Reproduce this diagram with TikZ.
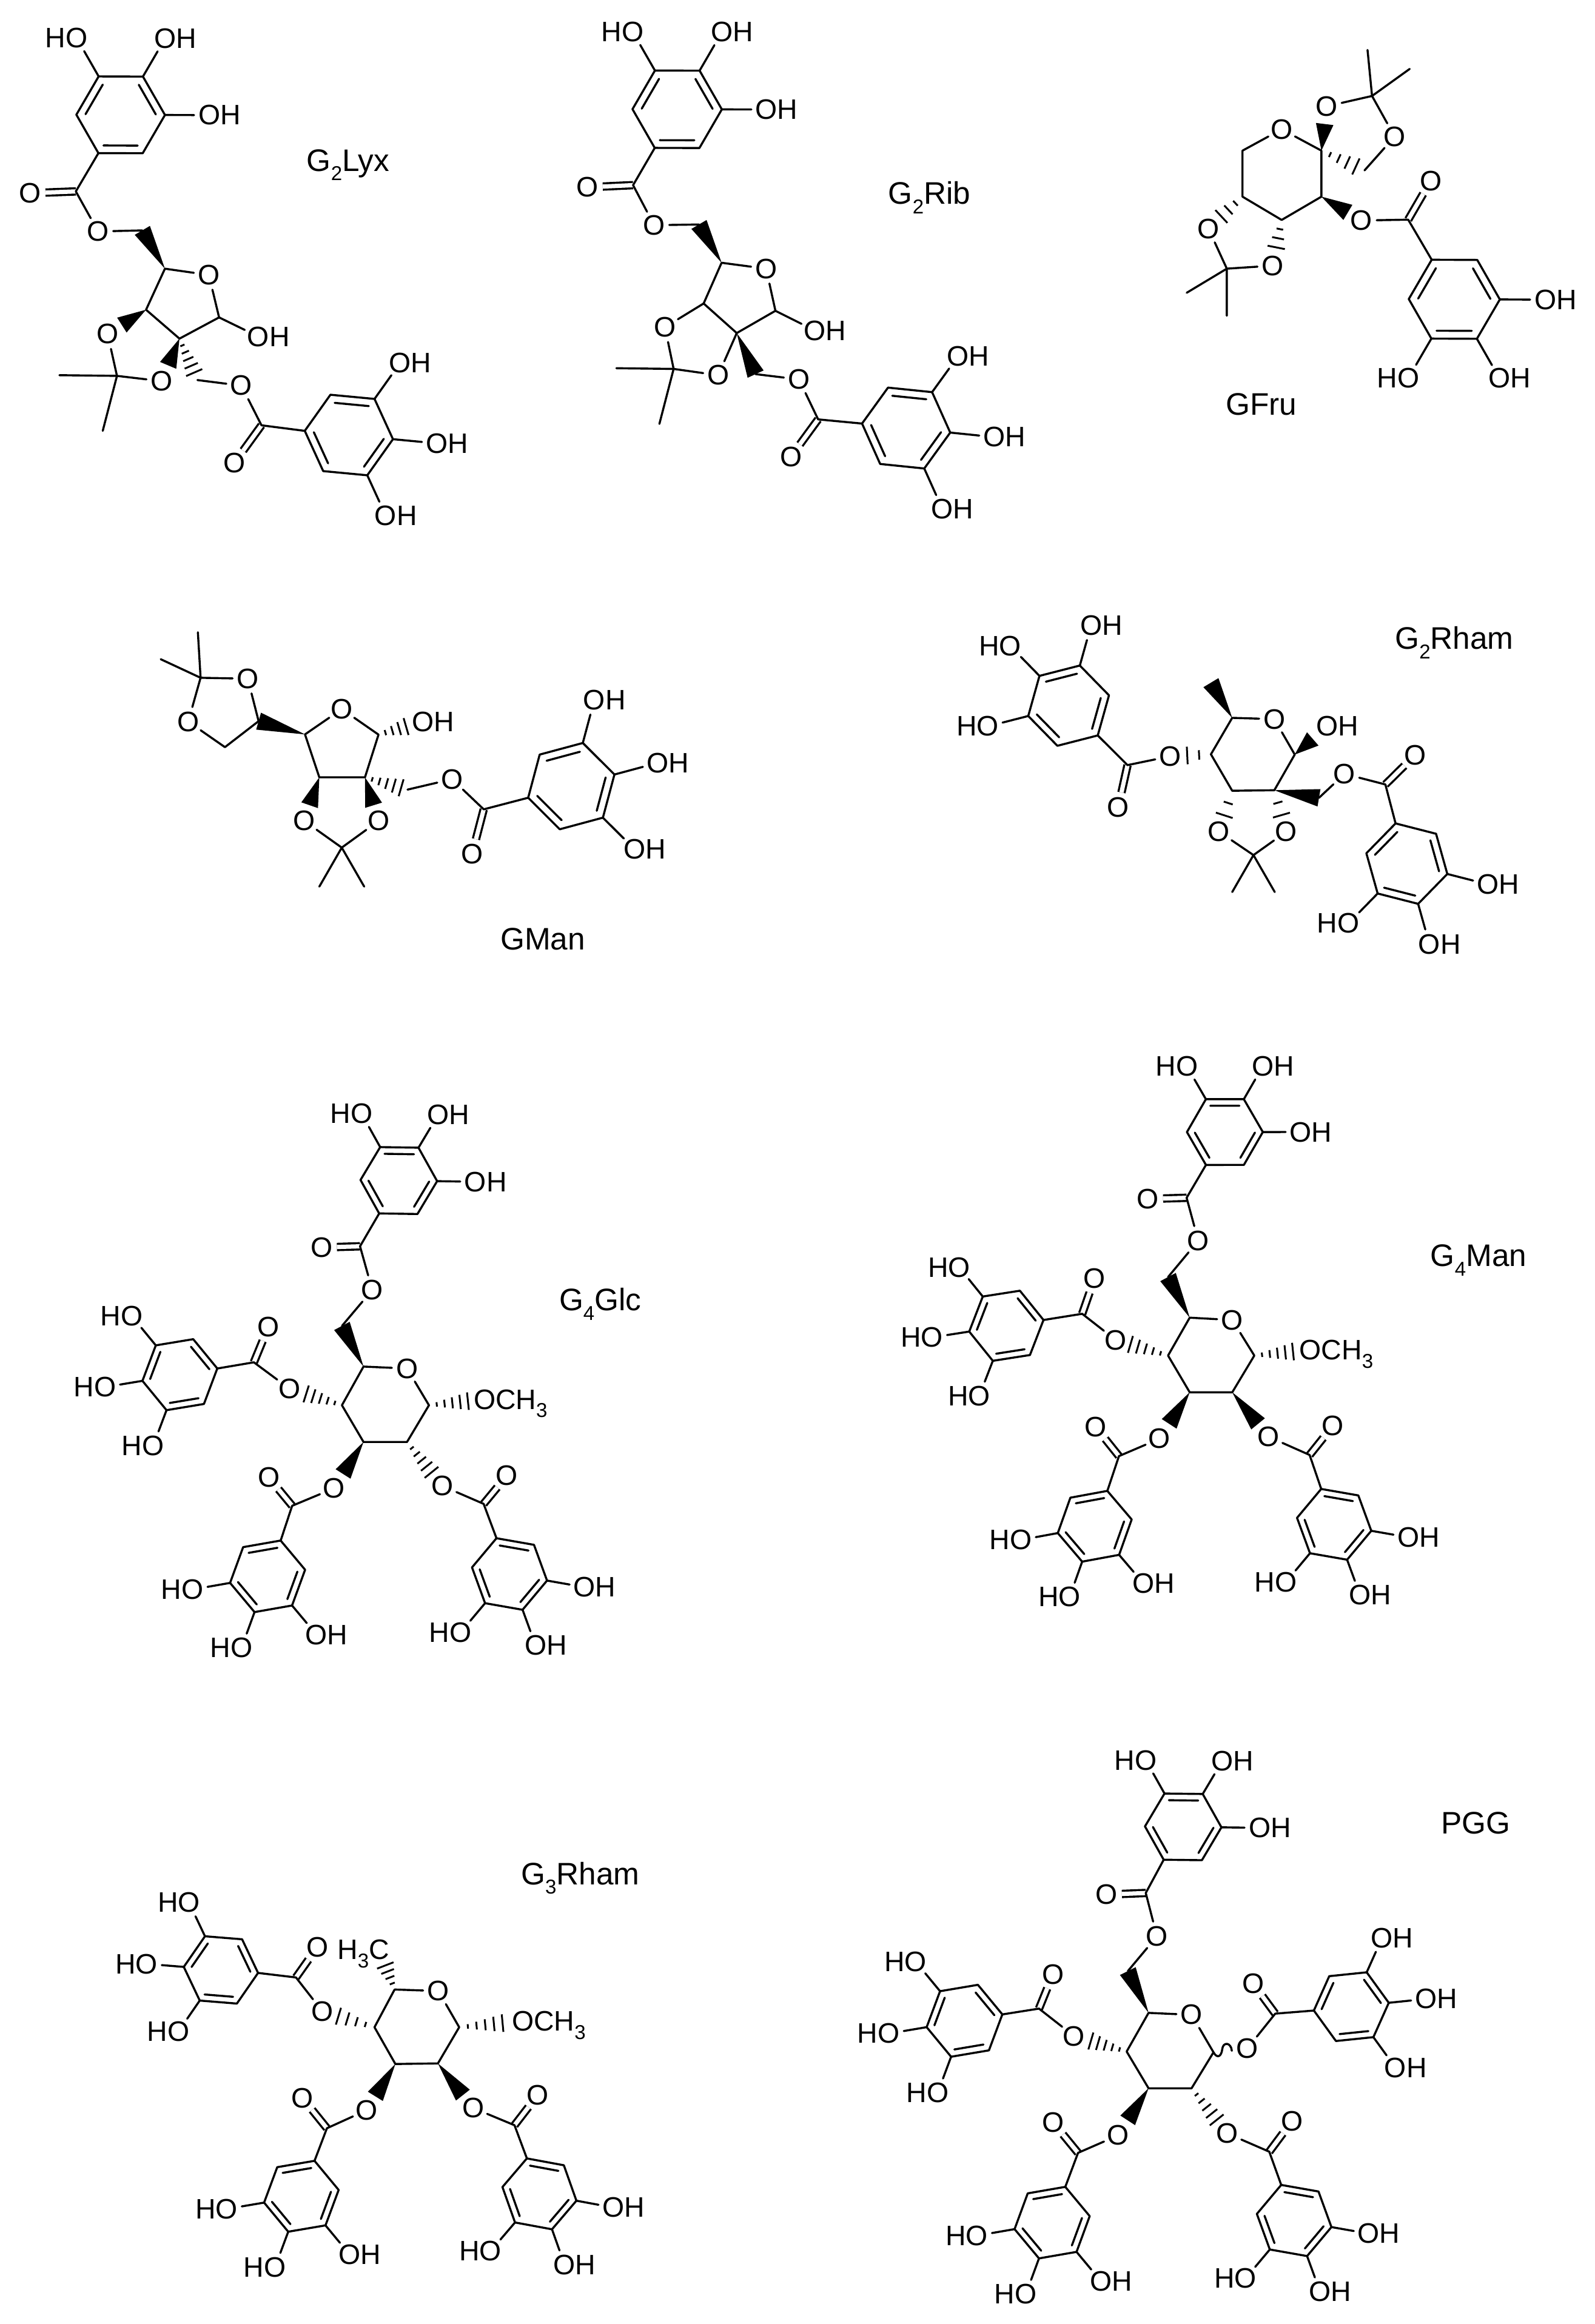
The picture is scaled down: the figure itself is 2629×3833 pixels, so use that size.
\documentclass[tikz,border=0pt]{standalone}
\usepackage{fontspec}
\setmainfont{Liberation Sans}
\usetikzlibrary{calc}

\newcommand{\lowsub}[1]{\smash{\raisebox{-.3em}{\fontsize{9.4}{9.4}\selectfont #1}}}
\newcommand{\OHr}{O\rlap{H}}
\newcommand{\HOl}{\llap{H}O}

\tikzset{
  bond/.style={line width=.34mm,line cap=round,line join=round},
  dbond/.style={line width=.34mm,double,double distance=.7mm},
  hashline/.style={line width=.3mm},
  atom/.style={circle,inner sep=0pt,minimum size=.46cm,font=\fontsize{13.2}{14}\selectfont},
  molname/.style={inner sep=0pt,font=\fontsize{14.6}{16}\selectfont},
  panel/.style n args={4}{shift={(#1,#2)},xscale=#3/1568,yscale=#4/1568}
}

\newcommand{\gallate}[7]{
  \coordinate (#1-0) at (#2);
  \coordinate (#1-3) at (#3);
  \begin{scope}[reset cm]
  \coordinate (#1-c) at ($(#1-0)!.5!(#1-3)$);
  \foreach \i in {1,2,4,5}{
    \pgfmathsetmacro\ringang{\i*#4}
    \coordinate (#1-\i) at ($(#1-c)!1!\ringang:(#1-0)$);
  }
  \draw[bond] (#1-0) -- (#1-1) -- (#1-2) -- (#1-3) -- (#1-4) -- (#1-5) -- cycle;
  \foreach \a/\b in {0/1,2/3,4/5}
    \draw[bond,shorten <=.01cm,shorten >=.01cm] ($(#1-\a)!.2!(#1-c)$) -- ($(#1-\b)!.2!(#1-c)$);
  \node[atom] (#1-o2) at ($(#1-c)!2!(#1-2)$) {#5};
  \node[atom] (#1-o3) at ($(#1-c)!2!(#1-3)$) {#6};
  \node[atom] (#1-o4) at ($(#1-c)!2!(#1-4)$) {#7};
  \draw[bond] (#1-2) -- (#1-o2);
  \draw[bond] (#1-3) -- (#1-o3);
  \draw[bond] (#1-4) -- (#1-o4);
  \end{scope}
}
\newcommand{\esterco}[4]{
  \coordinate (#1-k) at (#2);
  \node[atom] (#1-d) at (#3) {O};
  \draw[dbond] (#1-k) -- (#1-d);
  \draw[bond] (#1-0) -- (#1-k) -- (#4);
}
\newcommand{\wedgebond}[3]{
  \begin{scope}[reset cm]
  \coordinate (wtmp) at ($(#1)!#3!(#2)$);
  \fill (#1) -- ($(wtmp)!.145cm!90:(#1)$) -- ($(wtmp)!.145cm!-90:(#1)$) -- cycle;
  \end{scope}
}
\newcommand{\hashbond}[4]{
  \begin{scope}[reset cm]
  \foreach \k in {1,...,#4}{
    \pgfmathsetmacro\hpos{#3*\k/#4}
    \pgfmathsetmacro\hwid{.135*\k/#4+.01}
    \draw[hashline] ($(#1)!\hpos!(#2)!\hwid cm!90:(#2)$) -- ($(#1)!\hpos!(#2)!\hwid cm!-90:(#2)$);
  }
  \end{scope}
}

\begin{document}
\begin{tikzpicture}[x=.01cm,y=-.01cm]
\useasboundingbox (0,0) rectangle (2629,3833);

\begin{scope}[panel={0}{0}{800}{900}]
  \gallate{lyxA}{318,440}{462,220}{60}{\OHr}{\OHr}{\HOl}
  \gallate{lyxB}{985,1238}{1270,1262}{60}{\OHr}{\OHr}{\OHr}
  \node[atom] (lyxO5) at (317,665) {O};
  \node[atom] (lyxO6) at (780,1108) {O};
  \node[atom] (lyxOr) at (675,790) {O};
  \node[atom] (lyxOH) at (835,967) {\OHr};
  \node[atom] (lyxO3) at (348,960) {O};
  \node[atom] (lyxO2) at (522,1095) {O};
  \coordinate (lyxCH) at (460,662);
  \coordinate (lyxCB) at (638,1092);
  \coordinate (lyx4) at (533,772);
  \coordinate (lyx1) at (708,912);
  \coordinate (lyx2) at (580,973);
  \coordinate (lyx3) at (472,890);
  \coordinate (lyxK) at (378,1080);
  \coordinate (lyxMa) at (192,1078);
  \coordinate (lyxMb) at (332,1238);
  \esterco{lyxA}{245,550}{98,555}{lyxO5}
  \esterco{lyxB}{845,1222}{757,1330}{lyxO6}
  \draw[bond] (lyxO5) -- (lyxCH);
  \wedgebond{lyx4}{lyxCH}{1}
  \draw[bond] (lyx4) -- (lyxOr) -- (lyx1) -- (lyx2) -- (lyx3) -- (lyx4);
  \draw[bond] (lyx1) -- (lyxOH);
  \wedgebond{lyx3}{lyxO3}{.63}
  \wedgebond{lyx2}{lyxO2}{.63}
  \hashbond{lyx2}{lyxCB}{.82}{5}
  \draw[bond] (lyxCB) -- (lyxO6);
  \draw[bond] (lyxO3) -- (lyxK) -- (lyxO2);
  \draw[bond] (lyxMa) -- (lyxK) -- (lyxMb);
  \node[molname] (lyxName) at (1125,470) {G\lowsub{2}Lyx};
\end{scope}

\begin{scope}[panel={900}{0}{800}{900}]
  \gallate{ribA}{352,425}{497,203}{60}{\OHr}{\OHr}{\HOl}
  \gallate{ribB}{1022,1217}{1307,1243}{60}{\OHr}{\OHr}{\OHr}
  \node[atom] (ribO5) at (350,647) {O};
  \node[atom] (ribO6) at (818,1090) {O};
  \node[atom] (ribOr) at (712,772) {O};
  \node[atom] (ribOH) at (870,950) {\OHr};
  \node[atom] (ribO3) at (385,940) {O};
  \node[atom] (ribO2) at (557,1078) {O};
  \coordinate (ribCH) at (495,645);
  \coordinate (ribCB) at (678,1075);
  \coordinate (rib4) at (568,755);
  \coordinate (rib1) at (742,893);
  \coordinate (rib2) at (617,957);
  \coordinate (rib3) at (510,872);
  \coordinate (ribK) at (413,1060);
  \coordinate (ribMa) at (228,1058);
  \coordinate (ribMb) at (367,1218);
  \esterco{ribA}{282,532}{135,538}{ribO5}
  \esterco{ribB}{880,1205}{792,1312}{ribO6}
  \draw[bond] (ribO5) -- (ribCH);
  \wedgebond{rib4}{ribCH}{1}
  \draw[bond] (rib4) -- (ribOr) -- (rib1) -- (rib2) -- (rib3) -- (rib4);
  \draw[bond] (rib1) -- (ribOH);
  \draw[bond] (rib3) -- (ribO3) -- (ribK) -- (ribO2) -- (rib2);
  \draw[bond] (ribMa) -- (ribK) -- (ribMb);
  \wedgebond{rib2}{ribCB}{1}
  \draw[bond] (ribCB) -- (ribO6);
  \node[molname] (ribName) at (1240,555) {G\lowsub{2}Rib};
\end{scope}

\begin{scope}[panel={1850}{40}{779}{700}]
  \gallate{fruA}{1028,870}{1178,1162}{60}{\HOl}{\OHr}{\OHr}
  \node[atom] (fruOe) at (795,725) {O};
  \node[atom] (fruOr) at (530,388) {O};
  \node[atom] (fruOa) at (680,303) {O};
  \node[atom] (fruOb) at (905,415) {O};
  \node[atom] (fruOc) at (287,755) {O};
  \node[atom] (fruOd) at (500,892) {O};
  \coordinate (fru2) at (662,467);
  \coordinate (fru3) at (662,637);
  \coordinate (fru4) at (530,723);
  \coordinate (fru5) at (400,637);
  \coordinate (fru6) at (400,467);
  \coordinate (fruCB) at (805,540);
  \coordinate (fruKa) at (830,265);
  \coordinate (fruMa) at (815,95);
  \coordinate (fruMb) at (955,165);
  \coordinate (fruKb) at (348,903);
  \coordinate (fruMc) at (215,992);
  \coordinate (fruMd) at (348,1077);
  \esterco{fruA}{950,722}{1025,578}{fruOe}
  \draw[bond] (fru2) -- (fruOr) -- (fru6) -- (fru5) -- (fru4) -- (fru3) -- (fru2);
  \wedgebond{fru2}{fruOa}{.6}
  \hashbond{fru2}{fruCB}{.8}{4}
  \draw[bond] (fruCB) -- (fruOb) -- (fruKa) -- (fruOa);
  \draw[bond] (fruMa) -- (fruKa) -- (fruMb);
  \wedgebond{fru3}{fruOe}{.66}
  \hashbond{fru5}{fruOc}{.62}{3}
  \hashbond{fru4}{fruOd}{.6}{3}
  \draw[bond] (fruOc) -- (fruKb) -- (fruOd);
  \draw[bond] (fruMc) -- (fruKb) -- (fruMd);
  \node[molname] (fruName) at (463,1403) {GFru};
\end{scope}

\begin{scope}[panel={200}{1000}{1000}{600}]
  \gallate{manA}{1052,825}{1275,725}{60}{\OHr}{\OHr}{\OHr}
  \node[atom] (manOe) at (855,745) {O};
  \node[atom] (manOr) at (570,443) {O};
  \node[atom] (manOH) at (780,497) {\OHr};
  \node[atom] (manOa) at (327,312) {O};
  \node[atom] (manOb) at (173,497) {O};
  \node[atom] (manOc) at (473,925) {O};
  \node[atom] (manOd) at (665,925) {O};
  \coordinate (manKa) at (205,308);
  \coordinate (manMa) at (198,112);
  \coordinate (manMb) at (102,228);
  \coordinate (manD) at (355,495);
  \coordinate (manE) at (268,607);
  \coordinate (man1) at (665,553);
  \coordinate (man2) at (630,737);
  \coordinate (man3) at (512,737);
  \coordinate (man4) at (475,552);
  \coordinate (manCB) at (740,790);
  \coordinate (manKb) at (570,1040);
  \coordinate (manMc) at (512,1208);
  \coordinate (manMd) at (628,1208);
  \esterco{manA}{937,875}{907,1067}{manOe}
  \draw[bond] (manMa) -- (manKa) -- (manMb);
  \draw[bond] (manOb) -- (manKa) -- (manOa) -- (manD) -- (manE) -- (manOb);
  \wedgebond{man4}{manD}{1}
  \draw[bond] (man4) -- (manOr) -- (man1) -- (man2) -- (man3) -- (man4);
  \hashbond{man1}{manOH}{.62}{4}
  \wedgebond{man2}{manOd}{.64}
  \wedgebond{man3}{manOc}{.64}
  \hashbond{man2}{manCB}{.85}{5}
  \draw[bond] (manCB) -- (manOe);
  \draw[bond] (manOc) -- (manKb) -- (manOd);
  \draw[bond] (manMc) -- (manKb) -- (manMd);
  \node[molname] (manName) at (1090,1435) {GMan};
\end{scope}

\begin{scope}[panel={1500}{980}{1100}{650}]
  \gallate{rhaA}{442,562}{305,325}{60}{\OHr}{\HOl}{\HOl}
  \gallate{rhaB}{1142,912}{1195,1232}{60}{\HOl}{\OHr}{\OHr}
  \node[atom] (rhaOa) at (612,645) {O};
  \node[atom] (rhaOb) at (1022,715) {O};
  \node[atom] (rhaOr) at (857,497) {O};
  \node[atom] (rhaOH) at (982,525) {\OHr};
  \node[atom] (rhaOc) at (727,945) {O};
  \node[atom] (rhaOd) at (885,945) {O};
  \coordinate (rha1) at (905,638);
  \coordinate (rha2) at (857,780);
  \coordinate (rha3) at (758,782);
  \coordinate (rha4) at (708,637);
  \coordinate (rha5) at (758,492);
  \coordinate (rhaMe) at (708,352);
  \coordinate (rhaCB) at (962,810);
  \coordinate (rhaK) at (808,1038);
  \coordinate (rhaMa) at (758,1185);
  \coordinate (rhaMb) at (858,1185);
  \esterco{rhaA}{512,680}{490,848}{rhaOa}
  \esterco{rhaB}{1118,757}{1188,640}{rhaOb}
  \draw[bond] (rha5) -- (rhaOr) -- (rha1) -- (rha2) -- (rha3) -- (rha4) -- (rha5);
  \wedgebond{rha5}{rhaMe}{1}
  \wedgebond{rha1}{rhaOH}{.55}
  \wedgebond{rha2}{rhaCB}{1}
  \draw[bond] (rhaCB) -- (rhaOb);
  \hashbond{rha4}{rhaOa}{.58}{2}
  \hashbond{rha3}{rhaOc}{.6}{2}
  \hashbond{rha2}{rhaOd}{.6}{2}
  \draw[bond] (rhaOc) -- (rhaK) -- (rhaOd);
  \draw[bond] (rhaMa) -- (rhaK) -- (rhaMb);
  \node[molname] (rhaName) at (1280,175) {G\lowsub{2}Rham};
\end{scope}

\begin{scope}[panel={100}{1780}{900}{1000}]
  \gallate{glcA}{915,347}{1028,177}{-60}{\HOl}{\OHr}{\OHr}
  \gallate{glcB}{450,748}{235,780}{60}{\HOl}{\HOl}{\HOl}
  \gallate{glcC}{632,1193}{557,1378}{60}{\HOl}{\HOl}{\OHr}
  \gallate{glcD}{1252,1187}{1327,1372}{-60}{\OHr}{\OHr}{\HOl}
  \node[atom] (glcO6) at (895,545) {O};
  \node[atom] (glcO4) at (657,800) {O};
  \node[atom] (glcO3) at (785,1058) {O};
  \node[atom] (glcO2) at (1097,1052) {O};
  \node[atom] (glcOr) at (995,748) {O};
  \node[atom] (glcOM) at (1218,828) {O\rlap{CH\lowsub{3}}};
  \coordinate (glcCH) at (808,638);
  \coordinate (glc1) at (1058,843);
  \coordinate (glc2) at (995,938);
  \coordinate (glc3) at (870,938);
  \coordinate (glc4) at (808,843);
  \coordinate (glc5) at (870,743);
  \esterco{glcA}{860,432}{750,435}{glcO6}
  \esterco{glcB}{555,732}{597,640}{glcO4}
  \esterco{glcC}{665,1103}{598,1030}{glcO3}
  \esterco{glcD}{1215,1098}{1282,1025}{glcO2}
  \draw[bond] (glc5) -- (glcOr) -- (glc1) -- (glc2) -- (glc3) -- (glc4) -- (glc5);
  \draw[bond] (glcO6) -- (glcCH);
  \wedgebond{glc5}{glcCH}{1}
  \hashbond{glc1}{glcOM}{.7}{5}
  \hashbond{glc2}{glcO2}{.69}{5}
  \wedgebond{glc3}{glcO3}{.69}
  \hashbond{glc4}{glcO4}{.68}{5}
  \node[molname] (glcName) at (1550,570) {G\lowsub{4}Glc};
\end{scope}

\begin{scope}[panel={1440}{1700}{1000}{1000}]
  \gallate{gmaA}{860,347}{958,177}{-60}{\HOl}{\OHr}{\OHr}
  \gallate{gmaB}{440,748}{248,778}{60}{\HOl}{\HOl}{\HOl}
  \gallate{gmaC}{605,1190}{540,1373}{60}{\HOl}{\HOl}{\OHr}
  \gallate{gmaD}{1158,1185}{1225,1368}{-60}{\OHr}{\OHr}{\HOl}
  \node[atom] (gmaO6) at (840,543) {O};
  \node[atom] (gmaO4) at (627,800) {O};
  \node[atom] (gmaO3) at (740,1055) {O};
  \node[atom] (gmaO2) at (1022,1050) {O};
  \node[atom] (gmaOr) at (928,748) {O};
  \node[atom] (gmaOM) at (1130,825) {O\rlap{CH\lowsub{3}}};
  \coordinate (gmaCH) at (762,637);
  \coordinate (gma1) at (985,840);
  \coordinate (gma2) at (928,935);
  \coordinate (gma3) at (818,935);
  \coordinate (gma4) at (762,840);
  \coordinate (gma5) at (818,742);
  \esterco{gmaA}{810,432}{710,435}{gmaO6}
  \esterco{gmaB}{540,732}{572,640}{gmaO4}
  \esterco{gmaC}{635,1100}{575,1025}{gmaO3}
  \esterco{gmaD}{1128,1097}{1188,1022}{gmaO2}
  \draw[bond] (gma5) -- (gmaOr) -- (gma1) -- (gma2) -- (gma3) -- (gma4) -- (gma5);
  \draw[bond] (gmaO6) -- (gmaCH);
  \wedgebond{gma5}{gmaCH}{1}
  \hashbond{gma1}{gmaOM}{.69}{5}
  \wedgebond{gma2}{gmaO2}{.71}
  \wedgebond{gma3}{gmaO3}{.68}
  \hashbond{gma4}{gmaO4}{.72}{5}
  \node[molname] (gmaName) at (1565,582) {G\lowsub{4}Man};
\end{scope}

\begin{scope}[panel={150}{3050}{1000}{780}]
  \gallate{triA}{432,410}{240,390}{60}{\HOl}{\HOl}{\HOl}
  \gallate{triB}{578,1033}{510,1268}{60}{\HOl}{\HOl}{\OHr}
  \gallate{triC}{1127,1025}{1192,1260}{-60}{\OHr}{\OHr}{\HOl}
  \node[atom] (triO4) at (598,537) {O};
  \node[atom] (triO3) at (713,865) {O};
  \node[atom] (triO2) at (988,858) {O};
  \node[atom] (triOr) at (898,470) {O};
  \node[atom] (triOM) at (1117,570) {O\rlap{CH\lowsub{3}}};
  \node[atom] (triMe) at (745,332) {\llap{H\lowsub{3}}C};
  \coordinate (tri1) at (952,590);
  \coordinate (tri2) at (897,710);
  \coordinate (tri3) at (787,712);
  \coordinate (tri4) at (733,590);
  \coordinate (tri5) at (785,465);
  \esterco{triA}{530,425}{585,325}{triO4}
  \esterco{triB}{610,925}{547,825}{triO3}
  \esterco{triC}{1095,915}{1155,815}{triO2}
  \draw[bond] (tri5) -- (triOr) -- (tri1) -- (tri2) -- (tri3) -- (tri4) -- (tri5);
  \hashbond{tri5}{triMe}{.6}{4}
  \hashbond{tri1}{triOM}{.68}{5}
  \wedgebond{tri2}{triO2}{.71}
  \wedgebond{tri3}{triO3}{.7}
  \hashbond{tri4}{triO4}{.69}{4}
  \node[molname] (triName) at (1265,80) {G\lowsub{3}Rham};
\end{scope}

\begin{scope}[panel={1390}{2830}{1030}{1000}]
  \gallate{pggA}{805,372}{903,202}{-60}{\HOl}{\OHr}{\OHr}
  \gallate{pggB}{400,772}{210,805}{60}{\HOl}{\HOl}{\HOl}
  \gallate{pggC}{558,1218}{492,1403}{60}{\HOl}{\HOl}{\OHr}
  \gallate{pggD}{1100,1213}{1165,1397}{-60}{\OHr}{\OHr}{\HOl}
  \gallate{pggE}{1182,762}{1370,742}{-60}{\OHr}{\OHr}{\OHr}
  \node[atom] (pggO6) at (788,570) {O};
  \node[atom] (pggO4) at (580,828) {O};
  \node[atom] (pggO3) at (690,1085) {O};
  \node[atom] (pggO2) at (965,1080) {O};
  \node[atom] (pggO1) at (1015,860) {O};
  \node[atom] (pggOr) at (875,773) {O};
  \coordinate (pggCH) at (715,660);
  \coordinate (pggW) at (976,866);
  \coordinate (pgg1) at (930,870);
  \coordinate (pgg2) at (875,963);
  \coordinate (pgg3) at (767,963);
  \coordinate (pgg4) at (712,868);
  \coordinate (pgg5) at (767,768);
  \esterco{pggA}{760,458}{662,462}{pggO6}
  \esterco{pggB}{492,757}{527,668}{pggO4}
  \esterco{pggC}{590,1130}{528,1052}{pggO3}
  \esterco{pggD}{1070,1127}{1127,1048}{pggO2}
  \esterco{pggE}{1085,770}{1030,693}{pggO1}
  \draw[bond] (pgg5) -- (pggOr) -- (pgg1) -- (pgg2) -- (pgg3) -- (pgg4) -- (pgg5);
  \draw[bond] (pggO6) -- (pggCH);
  \wedgebond{pgg5}{pggCH}{1}
  \draw[bond] (pgg1) .. controls (940,888) and (950,880) .. (952,862) .. controls (954,842) and (974,844) .. (pggW);
  \hashbond{pgg2}{pggO2}{.7}{5}
  \wedgebond{pgg3}{pggO3}{.68}
  \hashbond{pgg4}{pggO4}{.68}{5}
  \node[molname] (pggName) at (1588,277) {PGG};
\end{scope}

\end{tikzpicture}
\end{document}
